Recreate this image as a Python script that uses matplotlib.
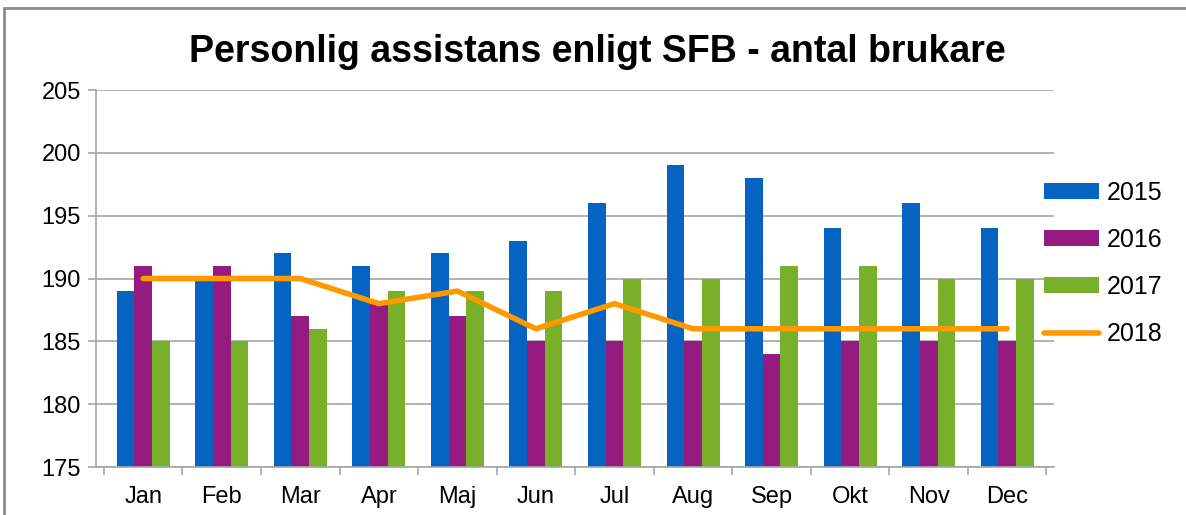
import matplotlib.pyplot as plt
import numpy as np
from matplotlib.patches import Rectangle

plt.rcParams["font.family"] = ["Liberation Sans", "DejaVu Sans"]

months = ["Jan", "Feb", "Mar", "Apr", "Maj", "Jun", "Jul", "Aug", "Sep", "Okt", "Nov", "Dec"]
y2015 = [189, 190, 192, 191, 192, 193, 196, 199, 198, 194, 196, 194]
y2016 = [191, 191, 187, 188, 187, 185, 185, 185, 184, 185, 185, 185]
y2017 = [185, 185, 186, 189, 189, 189, 190, 190, 191, 191, 190, 190]
y2018 = [190, 190, 190, 188, 189, 186, 188, 186, 186, 186, 186, 186]

fig = plt.figure(figsize=(11.86, 5.15), dpi=100)
ax = fig.add_axes([0.081, 0.0932, 0.808, 0.732])

x = np.arange(len(months))
w = 0.225
b1 = ax.bar(x - w, y2015, w, color="#0563C1", label="2015", zorder=2)
b2 = ax.bar(x, y2016, w, color="#951B81", label="2016", zorder=2)
b3 = ax.bar(x + w, y2017, w, color="#78B02A", label="2017", zorder=2)
l4, = ax.plot(x, y2018, color="#FF9900", lw=4, label="2018", zorder=3, solid_capstyle="round")

ax.set_ylim(175, 205)
ax.set_xlim(-0.6, len(months) - 0.4)
ax.set_yticks(range(175, 206, 5))
ax.yaxis.grid(True, color="#A6A6A6", lw=1.2, zorder=0)
ax.set_axisbelow(True)
ax.set_xticks(x)
ax.set_xticklabels(months)
ax.set_xticks(np.arange(-0.5, len(months), 1), minor=True)
ax.tick_params(axis="x", which="major", length=0, labelsize=17, pad=14)
ax.tick_params(axis="x", which="minor", length=6, color="#A6A6A6", width=1.2)
ax.tick_params(axis="y", length=6, color="#A6A6A6", width=1.2, labelsize=17, pad=5)
for s in ["top", "right"]:
    ax.spines[s].set_visible(False)
for s in ["left", "bottom"]:
    ax.spines[s].set_color("#A6A6A6")
    ax.spines[s].set_linewidth(1.2)

fig.text(0.504, 0.9, "Personlig assistans enligt SFB - antal brukare", ha="center", va="center",
         fontsize=27, fontweight="bold")

ax.legend([b1, b2, b3, l4], ["2015", "2016", "2017", "2018"], loc="center left",
          bbox_to_anchor=(0.966, 0.54), frameon=False, fontsize=18,
          handlelength=2.2, handleheight=0.6, labelspacing=0.92, handletextpad=0.3)

fig.patches.append(Rectangle((0.003, -0.01), 1.2, 0.995, transform=fig.transFigure,
                             fill=False, edgecolor="#8C8C8C", lw=2))

fig.savefig("out.png", dpi=100)
